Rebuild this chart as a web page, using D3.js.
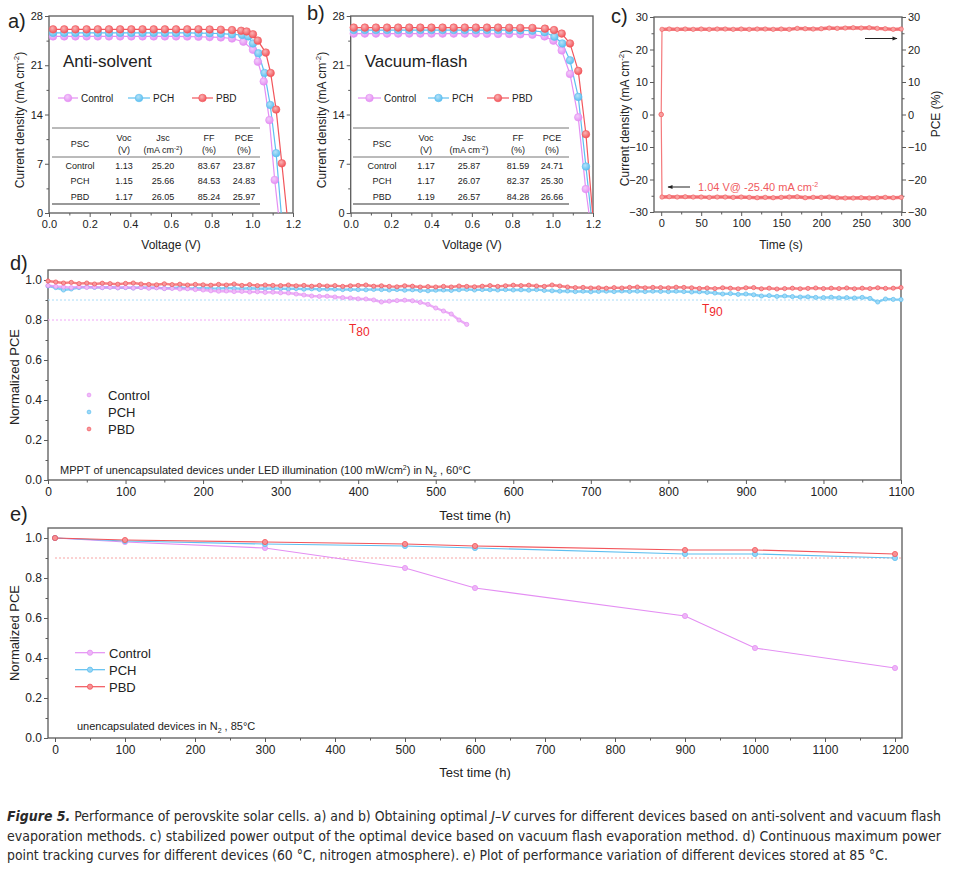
<!DOCTYPE html>
<html><head><meta charset="utf-8">
<script src="https://cdn.jsdelivr.net/npm/d3@7"></script>
<style>body{margin:0;background:#fff} svg, svg text{font-family:Arial,"Liberation Sans",Helvetica,sans-serif}</style>
</head><body><svg id="chart" width="953" height="872" font-family="Arial, Liberation Sans, sans-serif"></svg>
<script>
// ---------------- DATA ----------------
const seriesNames = ["Control", "PCH", "PBD"];
const seriesColors = ["#e48ff3", "#5dbff0", "#f2555b"];

// Panel a (Anti-solvent) J-V : [V, J]
const jvA_Control = [[0.02,25.1],[0.075,25.1],[0.13,25.1],[0.185,25.1],[0.24,25.1],[0.295,25.1],[0.35,25.1],[0.405,25.1],[0.46,25.1],[0.515,25.1],[0.57,25.1],[0.625,25.1],[0.68,25.08],[0.735,25.05],[0.79,25.0],[0.845,24.95],[0.9,24.8],[0.956,24.35],[1.003,23.2],[1.027,21.5],[1.056,18.7],[1.084,13.2],[1.11,4.7],[1.128,0]];
const jvA_PCH = [[0.02,25.6],[0.075,25.6],[0.13,25.6],[0.185,25.6],[0.24,25.6],[0.295,25.6],[0.35,25.6],[0.405,25.6],[0.46,25.6],[0.515,25.6],[0.57,25.6],[0.625,25.6],[0.68,25.6],[0.735,25.58],[0.79,25.55],[0.845,25.5],[0.9,25.4],[0.95,25.3],[0.98,25.1],[1.003,24.1],[1.03,22.7],[1.06,19.9],[1.088,15.35],[1.117,8.5],[1.142,0]];
const jvA_PBD = [[0.02,26.1],[0.075,26.1],[0.13,26.1],[0.185,26.1],[0.24,26.1],[0.295,26.1],[0.35,26.1],[0.405,26.1],[0.46,26.1],[0.515,26.1],[0.57,26.1],[0.625,26.1],[0.68,26.1],[0.735,26.1],[0.79,26.08],[0.845,26.05],[0.9,26.0],[0.945,25.9],[0.972,25.8],[1.003,25.4],[1.027,24.5],[1.066,22.8],[1.09,19.9],[1.117,14.7],[1.145,7.06],[1.17,0]];

// Panel b (Vacuum-flash) J-V
const jvB_Control = [[0.015,25.5],[0.07,25.5],[0.125,25.5],[0.18,25.5],[0.235,25.5],[0.29,25.5],[0.345,25.5],[0.4,25.5],[0.455,25.5],[0.51,25.5],[0.565,25.5],[0.62,25.5],[0.675,25.48],[0.73,25.45],[0.785,25.45],[0.84,25.4],[0.9,25.35],[0.96,25.1],[1.004,24.5],[1.045,23.1],[1.086,19.76],[1.127,13.6],[1.164,3.4],[1.18,0]];
const jvB_PCH = [[0.015,26.0],[0.07,26.0],[0.125,26.0],[0.18,26.0],[0.235,26.0],[0.29,26.0],[0.345,26.0],[0.4,26.0],[0.455,26.0],[0.51,26.0],[0.565,26.0],[0.62,26.0],[0.675,26.0],[0.73,26.0],[0.785,25.98],[0.84,25.95],[0.9,25.9],[0.96,25.7],[1.009,25.06],[1.048,24.1],[1.086,21.7],[1.127,16.5],[1.165,6.6],[1.19,0]];
const jvB_PBD = [[0.015,26.35],[0.07,26.35],[0.125,26.35],[0.18,26.35],[0.235,26.35],[0.29,26.35],[0.345,26.35],[0.4,26.35],[0.455,26.35],[0.51,26.35],[0.565,26.35],[0.62,26.35],[0.675,26.35],[0.73,26.35],[0.785,26.33],[0.84,26.3],[0.9,26.3],[0.962,26.2],[1.007,26.0],[1.045,25.5],[1.086,24.1],[1.127,20.2],[1.165,11.2],[1.198,0]];

// Tables
const tableHeader = ["PSC","Voc","Jsc","FF","PCE"];
const tableUnits = ["","(V)","(mA cm","(%)","(%)"];
const tableA = [["Control","1.13","25.20","83.67","23.87"],["PCH","1.15","25.66","84.53","24.83"],["PBD","1.17","26.05","85.24","25.97"]];
const tableB = [["Control","1.17","25.87","81.59","24.71"],["PCH","1.17","26.07","82.37","25.30"],["PBD","1.19","26.57","84.28","26.66"]];

// Panel c: stabilized output
const spoTime = [0,1,10,20,30,40,50,60,70,80,90,100,110,120,130,140,150,160,170,180,190,200,210,220,230,240,250,260,270,280,290,300];
const spoPCE = [0,26.2,26.3,26.2,26.3,26.2,26.3,26.2,26.3,26.3,26.2,26.3,26.2,26.3,26.3,26.2,26.3,26.2,26.5,26.4,26.3,26.4,26.6,26.5,26.6,26.7,26.6,26.7,26.5,26.4,26.2,26.3];
const spoJ = [0,-25.4,-25.3,-25.4,-25.3,-25.4,-25.4,-25.5,-25.4,-25.4,-25.5,-25.4,-25.5,-25.6,-25.5,-25.6,-25.5,-25.4,-25.3,-25.6,-25.5,-25.5,-25.4,-25.6,-25.7,-25.7,-25.6,-25.7,-25.6,-25.5,-25.6,-25.5];

// Panel d: MPPT (sampled every 10 h)
const mpptStep = 10;
const mpptPBD = [0.995,0.99,0.985,0.988,0.982,0.985,0.98,0.984,0.982,0.979,0.983,
0.985,0.98,0.978,0.976,0.981,0.977,0.979,0.975,0.978,0.976,
0.974,0.978,0.975,0.98,0.973,0.977,0.972,0.975,0.973,0.972,
0.975,0.971,0.973,0.969,0.973,0.97,0.972,0.968,0.971,0.973,
0.975,0.969,0.971,0.968,0.966,0.971,0.969,0.965,0.967,0.965,
0.968,0.965,0.97,0.968,0.966,0.969,0.972,0.968,0.971,0.974,
0.972,0.974,0.97,0.968,0.975,0.97,0.965,0.962,0.963,0.96,
0.961,0.959,0.962,0.96,0.963,0.965,0.961,0.963,0.962,0.961,
0.964,0.963,0.961,0.958,0.96,0.957,0.961,0.959,0.956,0.961,
0.962,0.956,0.959,0.955,0.957,0.959,0.956,0.958,0.96,0.957,
0.959,0.957,0.96,0.956,0.959,0.957,0.961,0.958,0.959,0.962];
const mpptPCH = [0.97,0.962,0.95,0.955,0.962,0.965,0.963,0.962,0.964,0.961,0.962,
0.96,0.963,0.961,0.962,0.958,0.96,0.962,0.959,0.958,0.96,
0.958,0.957,0.96,0.958,0.956,0.959,0.957,0.956,0.958,0.957,
0.955,0.957,0.954,0.956,0.953,0.955,0.954,0.952,0.953,0.952,
0.951,0.953,0.952,0.95,0.952,0.949,0.951,0.948,0.946,0.949,
0.95,0.948,0.951,0.953,0.95,0.952,0.951,0.95,0.952,0.95,
0.951,0.949,0.952,0.948,0.946,0.944,0.945,0.942,0.944,0.941,
0.943,0.944,0.942,0.945,0.943,0.944,0.942,0.944,0.943,0.942,
0.944,0.942,0.94,0.941,0.938,0.935,0.93,0.932,0.928,0.93,
0.926,0.92,0.922,0.918,0.92,0.917,0.915,0.916,0.913,0.912,
0.914,0.911,0.912,0.91,0.913,0.908,0.89,0.905,0.903,0.902];
const mpptControl = [0.972,0.968,0.965,0.962,0.966,0.963,0.965,0.962,0.964,0.961,0.963,
0.96,0.962,0.959,0.961,0.957,0.958,0.955,0.956,0.952,0.95,
0.946,0.944,0.945,0.942,0.943,0.94,0.941,0.938,0.939,0.936,
0.935,0.93,0.925,0.92,0.918,0.919,0.915,0.912,0.91,0.906,
0.905,0.9,0.89,0.894,0.897,0.899,0.896,0.888,0.878,0.86,
0.845,0.83,0.8,0.778];

// Panel e: storage at 85 C
const storeTime = [0,100,300,500,600,900,1000,1200];
const storeControl = [1.0,0.98,0.95,0.85,0.75,0.61,0.45,0.35];
const storePCH = [1.0,0.985,0.97,0.96,0.95,0.92,0.92,0.90];
const storePBD = [1.0,0.99,0.98,0.97,0.96,0.94,0.94,0.92];

const captionLines = [
 [["Figure 5.","bi"],[" Performance of perovskite solar cells. a) and b) Obtaining optimal ",""],["J–V","i"],[" curves for different devices based on anti-solvent and vacuum flash",""]],
 [["evaporation methods. c) stabilized power output of the optimal device based on vacuum flash evaporation method. d) Continuous maximum power",""]],
 [["point tracking curves for different devices (60 °C, nitrogen atmosphere). e) Plot of performance variation of different devices stored at 85 °C.",""]]
];

// ---------------- DRAWING ----------------
const FONT = "Arial, 'Liberation Sans', Helvetica, sans-serif";
const svg = d3.select("#chart");
const FRAME = "#5a5a5a";
const defs = svg.append("defs");
seriesColors.forEach((c,i)=>{
  const g = defs.append("radialGradient").attr("id","grad"+i).attr("cx","40%").attr("cy","35%").attr("r","65%");
  g.append("stop").attr("offset","0%").attr("stop-color", d3.interpolateRgb(c,"#fff")(0.55));
  g.append("stop").attr("offset","100%").attr("stop-color", c);
});

function axes(x, y, o){
  const g = svg.append("g");
  const fs = o.fs || 11;
  const xa = d3.axisBottom(x).tickValues(o.xt).tickSize(4).tickPadding(3).tickFormat(o.xf);
  const ya = d3.axisLeft(y).tickValues(o.yt).tickSize(4).tickPadding(2).tickFormat(o.yf);
  const y0 = y.range()[0], x0 = x.range()[0];
  g.append("g").attr("transform",`translate(0,${y0})`).call(xa);
  g.append("g").attr("transform",`translate(${x0},0)`).call(ya);
  if(o.xm) g.append("g").attr("transform",`translate(0,${y0})`).call(d3.axisBottom(x).tickValues(o.xm).tickSize(2.5).tickFormat(""));
  if(o.ym) g.append("g").attr("transform",`translate(${x0},0)`).call(d3.axisLeft(y).tickValues(o.ym).tickSize(2.5).tickFormat(""));
  g.selectAll(".domain").remove();
  g.selectAll("g").attr("font-family",FONT);
  g.selectAll(".tick line").attr("stroke",FRAME).attr("stroke-width",1);
  g.selectAll(".tick text").attr("font-size",fs).attr("fill","#222").style("font-family",FONT);
  g.append("rect").attr("x",x.range()[0]).attr("y",y.range()[1])
   .attr("width",x.range()[1]-x.range()[0]).attr("height",y.range()[0]-y.range()[1])
   .attr("fill","none").attr("stroke",FRAME).attr("stroke-width",1.3);
  return g;
}

function rotTitle(x, y, parts, fs, ang){
  const t = svg.append("text").attr("transform",`translate(${x},${y}) rotate(${ang||-90})`)
    .attr("text-anchor","middle").attr("font-size",fs).style("font-family",FONT).attr("fill","#222");
  parts.forEach(p=>{
    const s = t.append("tspan").text(p[0]);
    if(p[1]==="sup") s.attr("font-size",fs*0.65).attr("dy",-fs*0.4);
    if(p[1]==="back") s.attr("dy",fs*0.4);
  });
  return t;
}
function label(x,y,txt,fs,anchor){
  return svg.append("text").attr("x",x).attr("y",y).attr("font-size",fs).attr("text-anchor",anchor||"start")
    .style("font-family",FONT).attr("fill","#222").text(txt);
}

// ---- Panels a and b ----
function jvPanel(x0, x1, data, title, tbl, tcols, tx0, tx1, lg){
  const x = d3.scaleLinear().domain([0,1.2]).range([x0,x1]);
  const y = d3.scaleLinear().domain([0,28]).range([213,16]);
  axes(x,y,{xt:[0,0.2,0.4,0.6,0.8,1.0,1.2], xf:d3.format(".1f"), xm:[0.1,0.3,0.5,0.7,0.9,1.1],
            yt:[0,7,14,21,28], yf:d3.format("d"), ym:[3.5,10.5,17.5,24.5], fs:11});
  const line = d3.line().x(d=>x(d[0])).y(d=>y(d[1]));
  data.forEach((ser,i)=>{
    svg.append("path").attr("d",line(ser)).attr("fill","none").attr("stroke",seriesColors[i]).attr("stroke-width",1.2);
  });
  data.forEach((ser,i)=>{
    svg.append("g").selectAll("circle").data(ser.filter(d=>d[1]>0)).join("circle")
      .attr("cx",d=>x(d[0])).attr("cy",d=>y(d[1])).attr("r",3.8)
      .attr("fill",`url(#grad${i})`).attr("stroke",seriesColors[i]).attr("stroke-width",0.6);
  });
  label(x0+14, 67, title, 17);
  lg.forEach((l,i)=>{
    svg.append("line").attr("x1",l[0]).attr("x2",l[1]).attr("y1",98).attr("y2",98).attr("stroke",seriesColors[i]).attr("stroke-width",1.2);
    svg.append("circle").attr("cx",(l[0]+l[1])/2).attr("cy",98).attr("r",3.8).attr("fill",`url(#grad${i})`).attr("stroke",seriesColors[i]).attr("stroke-width",0.6);
    label(l[1]+3, 101.5, seriesNames[i], 10);
  });
  const tg = svg.append("g");
  [128,157].forEach(yy=>tg.append("line").attr("x1",tx0).attr("x2",tx1).attr("y1",yy).attr("y2",yy).attr("stroke","#777").attr("stroke-width",1));
  tg.append("line").attr("x1",tx0).attr("x2",tx1).attr("y1",204).attr("y2",204).attr("stroke","#777").attr("stroke-width",1.3);
  const fs=9;
  const t9 = (xx,yy,s)=>tg.append("text").attr("x",xx).attr("y",yy).attr("font-size",fs).attr("text-anchor","middle").style("font-family",FONT).attr("fill","#222").text(s);
  tableHeader.forEach((h,i)=>{
    if(i===0){ t9(tcols[i],146.5,h); return; }
    t9(tcols[i],141,h);
    const u = t9(tcols[i],153,"");
    u.append("tspan").text(tableUnits[i]);
    if(i===2){ u.append("tspan").attr("font-size",6).attr("dy",-3.5).text("-2"); u.append("tspan").attr("dy",3.5).text(")"); }
  });
  tbl.forEach((row,r)=>{
    row.forEach((v,c)=>t9(tcols[c],168.5+r*15.5,v));
  });
}
jvPanel(49, 293, [jvA_Control,jvA_PCH,jvA_PBD], "Anti-solvent", tableA, [80,124,163,209,244], 52, 260,
  [[58,78],[128,150],[192,213]]);
jvPanel(350.7, 593, [jvB_Control,jvB_PCH,jvB_PBD], "Vacuum-flash", tableB, [382,426,469,518,552], 353, 569,
  [[358,381],[428,449],[487,509]]);

rotTitle(24, 120, [["Current density (mA cm"],["-2","sup"],[")","back"]], 12);
rotTitle(326, 120, [["Current density (mA cm"],["-2","sup"],[")","back"]], 12);
label(171, 249, "Voltage (V)", 12, "middle");
label(472, 249, "Voltage (V)", 12, "middle");

// ---- Panel c ----
{
  const x = d3.scaleLinear().domain([-9,301]).range([654,902]);
  const y = d3.scaleLinear().domain([-30,30]).range([212,17]);
  axes(x,y,{xt:[0,50,100,150,200,250,300], xf:d3.format("d"), xm:[25,75,125,175,225,275],
            yt:[-30,-20,-10,0,10,20,30], yf:d3.format("d"), ym:[-25,-15,-5,5,15,25], fs:11});
  const yr = d3.scaleLinear().domain([-30,30]).range([212,17]);
  const gr = svg.append("g").attr("transform","translate(902,0)");
  gr.call(d3.axisRight(yr).tickValues([-30,-20,-10,0,10,20,30]).tickSize(4).tickPadding(2).tickFormat(d3.format("d")));
  gr.append("g").call(d3.axisRight(yr).tickValues([-25,-15,-5,5,15,25]).tickSize(2.5).tickFormat(""));
  gr.selectAll(".domain").remove();
  gr.selectAll(".tick line").attr("stroke",FRAME);
  gr.selectAll(".tick text").attr("font-size",11).attr("fill","#222").style("font-family",FONT);
  const line = d3.line().x((d,i)=>x(spoTime[i])).y(d=>y(d));
  [spoPCE, spoJ].forEach(arr=>{
    svg.append("path").attr("d",line(arr)).attr("fill","none").attr("stroke","#f47a7c").attr("stroke-width",1.2);
    const pts = arr.map((d,i)=>[spoTime[i],d]).slice(1);
    svg.append("path").attr("d",d3.line().x(d=>x(d[0])).y(d=>y(d[1]))(pts)).attr("fill","none").attr("stroke","#f26468").attr("stroke-width",3.4).attr("opacity",0.85);
    svg.append("g").selectAll("circle").data(arr).join("circle")
      .attr("cx",(d,i)=>x(spoTime[i])).attr("cy",d=>y(d)).attr("r",2.2)
      .attr("fill","#f8a0a0").attr("stroke","#f25a5e").attr("stroke-width",0.6);
  });
  defs.append("marker").attr("id","arr").attr("viewBox","0 0 10 10").attr("refX",9).attr("refY",5)
    .attr("markerWidth",7).attr("markerHeight",5).attr("orient","auto").append("path").attr("d","M0,1 L10,5 L0,9 Z").attr("fill","#222");
  svg.append("line").attr("x1",865).attr("x2",897).attr("y1",38.5).attr("y2",38.5).attr("stroke","#222").attr("stroke-width",1).attr("marker-end","url(#arr)");
  svg.append("line").attr("x1",690).attr("x2",668).attr("y1",187).attr("y2",187).attr("stroke","#222").attr("stroke-width",1).attr("marker-end","url(#arr)");
  const t = svg.append("text").attr("x",698).attr("y",191).attr("font-size",11).style("font-family",FONT).attr("fill","#f05a5e");
  t.append("tspan").text("1.04 V@ -25.40 mA cm");
  t.append("tspan").attr("font-size",7).attr("dy",-4).text("-2");
  rotTitle(629, 118, [["Current density (mA cm"],["-2","sup"],[")","back"]], 12);
  rotTitle(940, 114, [["PCE (%)"]], 12);
  label(781, 249, "Time (s)", 12, "middle");
}

// ---- Panel d ----
{
  const x = d3.scaleLinear().domain([0,1100]).range([48,901]);
  const y = d3.scaleLinear().domain([0,1.05]).range([480,270]);
  axes(x,y,{xt:d3.range(0,1101,100), xf:d3.format("d"), xm:d3.range(50,1100,100),
            yt:[0,0.2,0.4,0.6,0.8,1.0], yf:d3.format(".1f"), ym:[0.1,0.3,0.5,0.7,0.9], fs:12});
  svg.append("line").attr("x1",x(0)).attr("x2",x(518)).attr("y1",y(0.8)).attr("y2",y(0.8)).attr("stroke","#f0a6f6").attr("stroke-width",1).attr("stroke-dasharray","2,2");
  svg.append("line").attr("x1",x(0)).attr("x2",x(1100)).attr("y1",y(0.9)).attr("y2",y(0.9)).attr("stroke","#a8dcf8").attr("stroke-width",1).attr("stroke-dasharray","2,2");
  const sets = [mpptControl, mpptPCH, mpptPBD];
  [1,0,2].forEach(i=>{
    const arr = sets[i];
    const ln = d3.line().x((d,k)=>x(k*mpptStep)).y(d=>y(d));
    svg.append("path").attr("d",ln(arr)).attr("fill","none").attr("stroke",seriesColors[i]).attr("stroke-width",2.4).attr("opacity",0.75);
    svg.append("g").selectAll("circle").data(arr).join("circle")
      .attr("cx",(d,k)=>x(k*mpptStep)).attr("cy",d=>y(d)).attr("r",2.1)
      .attr("fill",d3.interpolateRgb(seriesColors[i],"#fff")(0.4)).attr("stroke",seriesColors[i]).attr("stroke-width",0.7);
  });
  [[349,333,"80"],[702,313,"90"]].forEach(p=>{
    const t = svg.append("text").attr("x",p[0]).attr("y",p[1]).attr("font-size",12).style("font-family",FONT).attr("fill","#f0282c");
    t.append("tspan").text("T");
    t.append("tspan").attr("dy",3).text(p[2]);
  });
  seriesNames.forEach((n,i)=>{
    svg.append("circle").attr("cx",89).attr("cy",395+i*17).attr("r",1.9)
      .attr("fill",d3.interpolateRgb(seriesColors[i],"#fff")(0.4)).attr("stroke",seriesColors[i]).attr("stroke-width",0.7);
    label(108, 400+i*17, n, 13);
  });
  const a = svg.append("text").attr("x",60).attr("y",474).attr("font-size",11).style("font-family",FONT).attr("fill","#222");
  a.append("tspan").text("MPPT of  unencapsulated devices under LED illumination (100 mW/cm");
  a.append("tspan").attr("font-size",7).attr("dy",-4).text("2");
  a.append("tspan").attr("dy",4).text(") in N");
  a.append("tspan").attr("font-size",7).attr("dy",3).text("2");
  a.append("tspan").attr("dy",-3).text(" , 60°C");
  rotTitle(19, 377, [["Normalized PCE"]], 13);
  label(475, 520, "Test time (h)", 13, "middle");
}

// ---- Panel e ----
{
  const x = d3.scaleLinear().domain([-10,1210]).range([48,902]);
  const y = d3.scaleLinear().domain([0,1.05]).range([738,528]);
  axes(x,y,{xt:d3.range(0,1201,100), xf:d3.format("d"), xm:d3.range(50,1200,100),
            yt:[0,0.2,0.4,0.6,0.8,1.0], yf:d3.format(".1f"), ym:[0.1,0.3,0.5,0.7,0.9], fs:12});
  svg.append("line").attr("x1",x(0)).attr("x2",x(1210)).attr("y1",y(0.9)).attr("y2",y(0.9)).attr("stroke","#f7a4a4").attr("stroke-width",1).attr("stroke-dasharray","2,2");
  const sets = [storeControl, storePCH, storePBD];
  sets.forEach((arr,i)=>{
    const ln = d3.line().x((d,k)=>x(storeTime[k])).y(d=>y(d));
    svg.append("path").attr("d",ln(arr)).attr("fill","none").attr("stroke",seriesColors[i]).attr("stroke-width",1.2);
    svg.append("g").selectAll("circle").data(arr).join("circle")
      .attr("cx",(d,k)=>x(storeTime[k])).attr("cy",d=>y(d)).attr("r",2.6)
      .attr("fill",d3.interpolateRgb(seriesColors[i],"#fff")(0.35)).attr("stroke",seriesColors[i]).attr("stroke-width",0.8);
  });
  seriesNames.forEach((n,i)=>{
    const yy = 652.7+i*17;
    svg.append("line").attr("x1",75).attr("x2",105).attr("y1",yy).attr("y2",yy).attr("stroke",seriesColors[i]).attr("stroke-width",1.2);
    svg.append("circle").attr("cx",90).attr("cy",yy).attr("r",2.6)
      .attr("fill",d3.interpolateRgb(seriesColors[i],"#fff")(0.35)).attr("stroke",seriesColors[i]).attr("stroke-width",0.8);
    label(109, yy+5, n, 13);
  });
  const a = svg.append("text").attr("x",77).attr("y",730).attr("font-size",11).style("font-family",FONT).attr("fill","#222");
  a.append("tspan").text("unencapsulated devices in N");
  a.append("tspan").attr("font-size",7).attr("dy",3).text("2");
  a.append("tspan").attr("dy",-3).text(" , 85°C");
  rotTitle(19, 633, [["Normalized PCE"]], 13);
  label(475, 777, "Test time (h)", 13, "middle");
}

// panel letters
[["a)",8,28],["b)",307,20],["c)",611,23],["d)",10,270],["e)",10,521]].forEach(p=>label(p[1],p[2],p[0],20));

// caption
const capW = [934, 934, 881];
captionLines.forEach((parts,li)=>{
  const t = svg.append("text").attr("x",7).attr("y",821+li*19.5).attr("font-size",14)
    .style("font-family","'Liberation Sans Narrow','DejaVu Sans Condensed',Arial,sans-serif")
    .attr("fill","#2a2a2a")
    .attr("textLength",capW[li]).attr("lengthAdjust","spacingAndGlyphs");
  parts.forEach(p=>{
    const s = t.append("tspan").text(p[0]);
    if(p[1]==="bi") s.attr("font-weight","bold").attr("font-style","italic");
    if(p[1]==="i") s.attr("font-style","italic");
  });
});
</script></body></html>
